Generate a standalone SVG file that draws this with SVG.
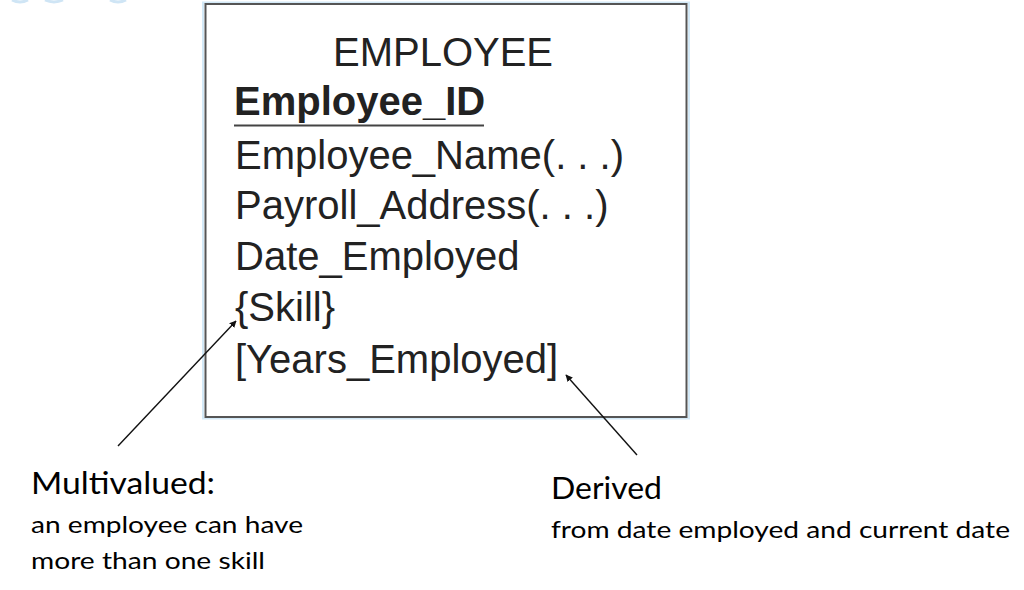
<svg xmlns="http://www.w3.org/2000/svg" width="1024" height="590" viewBox="0 0 1024 590">
<style>
.ent{font-family:"Liberation Sans",Arial,sans-serif;font-size:40px;fill:#222}
.b{font-weight:bold}
.note{font-family:Lato,"Open Sans",sans-serif;fill:#000}
.big{font-size:31px}
.small{font-size:24px}
.conn{stroke:#111;stroke-width:1.4;fill:none;marker-end:url(#ah)}
</style>
<defs>
<marker id="ah" viewBox="0 0 10 10" refX="9" refY="5" markerWidth="7" markerHeight="7" markerUnits="userSpaceOnUse" orient="auto">
<path d="M0,0 L10,5 L0,10 z" fill="#111"/>
</marker>
</defs>
<rect width="1024" height="590" fill="#fff"/>
<g id="deco" fill="none" stroke="#cfe5f5" stroke-width="3">
<path d="M12,0 Q20,4 28,0"/>
<path d="M45,0 Q54,4 63,0"/>
<path d="M110,0 Q118,4 126,0"/>
</g>
<g id="employee">
<rect x="203" y="2.5" width="486" height="416" fill="none" stroke="#d3e9f7" stroke-width="2"/>
<rect x="205.5" y="4" width="481" height="413" fill="#fff" stroke="#555" stroke-width="2"/>
<text class="ent" x="443" y="66" text-anchor="middle">EMPLOYEE</text>
<text class="ent b" x="234" y="115">Employee_ID</text>
<line x1="234" y1="125.5" x2="484" y2="125.5" stroke="#444" stroke-width="2"/>
<text class="ent" x="235" y="169">Employee_Name(. . .)</text>
<text class="ent" x="235" y="219">Payroll_Address(. . .)</text>
<text class="ent" x="235" y="270">Date_Employed</text>
<text class="ent" x="235" y="321">{Skill}</text>
<text class="ent" x="235" y="373">[Years_Employed]</text>
</g>
<g id="connectors">
<line class="conn" x1="118" y1="446" x2="236" y2="321"/>
<line class="conn" x1="637" y1="455" x2="566" y2="375"/>
</g>
<g id="multivalued-note">
<text class="note big" x="31" y="494" textLength="184" lengthAdjust="spacingAndGlyphs">Multivalued:</text>
<text class="note small" x="31" y="533" textLength="272" lengthAdjust="spacingAndGlyphs">an employee can have</text>
<text class="note small" x="31" y="569" textLength="234" lengthAdjust="spacingAndGlyphs">more than one skill</text>
</g>
<g id="derived-note">
<text class="note big" x="551" y="499" textLength="111" lengthAdjust="spacingAndGlyphs">Derived</text>
<text class="note small" x="551" y="538" textLength="459" lengthAdjust="spacingAndGlyphs">from date employed and current date</text>
</g>
</svg>
